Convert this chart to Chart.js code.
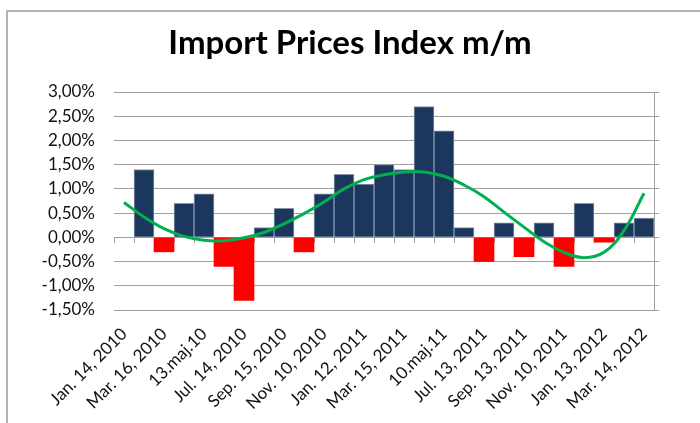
<!DOCTYPE html>
<html>
<head>
<meta charset="utf-8">
<script src="https://cdn.jsdelivr.net/npm/chart.js@4"></script>
<style>
  html, body { margin: 0; padding: 0; background: #fff; }
  body { width: 700px; height: 423px; position: relative; overflow: hidden; }
  #frame { position: absolute; left: 6px; top: 10px; width: 760px; height: 480px; border: 2px solid #b4b4b4; }
  #wrap { position: absolute; left: 0; top: 0; width: 700px; height: 423px; }
</style>
</head>
<body>
<div id="frame"></div>
<div id="wrap"><canvas id="chart"></canvas></div>
<script>
// Monthly categories; only every second one carries a label in the original
const categories = [
  'Jan. 14, 2010', '', 'Mar. 16, 2010', '', '13.maj.10', '', 'Jul. 14, 2010', '',
  'Sep. 15, 2010', '', 'Nov. 10, 2010', '', 'Jan. 12, 2011', '', 'Mar. 15, 2011', '',
  '10.maj.11', '', 'Jul. 13, 2011', '', 'Sep. 13, 2011', '', 'Nov. 10, 2011', '',
  'Jan. 13, 2012', '', 'Mar. 14, 2012'
];

// m/m change in %
const importPrices = [
  null, 1.4, -0.3, 0.7, 0.9, -0.6, -1.3, 0.2, 0.6, -0.3, 0.9, 1.3, 1.1, 1.5,
  1.4, 2.7, 2.2, 0.2, -0.5, 0.3, -0.4, 0.3, -0.6, 0.7, -0.1, 0.3, 0.4
];

// polynomial trend line
const trendLine = [
  0.72, 0.42, 0.18, 0.02, -0.06, -0.07, -0.01, 0.10, 0.28, 0.49, 0.73, 1.00, 1.19, 1.29,
  1.35, 1.35, 1.26, 1.08, 0.84, 0.52, 0.21, -0.09, -0.31, -0.42, -0.31, 0.14, 0.91
];

const yTicks = [-1.5, -1.0, -0.5, 0, 0.5, 1.0, 1.5, 2.0, 2.5, 3.0];

const NAVY = '#1c375e';
const RED = '#ff0000';
const GRID = '#a0a0a0';
const FONT = 'Lato, "Open Sans", sans-serif';

const fmtPct = (v) => v.toFixed(2).replace('.', ',') + '%';

new Chart(document.getElementById('chart'), {
  type: 'bar',
  data: {
    labels: categories,
    datasets: [
      {
        type: 'line',
        label: 'Trend',
        data: trendLine,
        borderColor: '#00b050',
        borderWidth: 3,
        pointRadius: 0,
        tension: 0.4,
        fill: false,
        order: 0,
      },
      {
        label: 'Import Prices Index m/m',
        data: importPrices,
        backgroundColor: (ctx) => (ctx.raw < 0 ? RED : NAVY),
        borderColor: (ctx) => (ctx.raw < 0 ? RED : '#8796ad'),
        borderWidth: (ctx) => (ctx.raw < 0 ? 0 : 1),
        categoryPercentage: 1,
        barPercentage: 1,
        order: 1,
      },
    ],
  },
  options: {
    responsive: true,
    maintainAspectRatio: false,
    animation: false,
    layout: { padding: 0 },
    plugins: {
      legend: { display: false },
      tooltip: { enabled: false },
      title: {
        display: true,
        text: 'Import Prices Index m/m',
        color: '#000',
        font: { family: FONT, size: 33, weight: 'bold', lineHeight: 1.2 },
        padding: { top: 24, bottom: 28.4 },
      },
    },
    scales: {
      x: {
        type: 'category',
        position: 'bottom',
        offset: true,
        grid: { display: false, drawTicks: false },
        border: { display: false },
        ticks: {
          autoSkip: false,
          minRotation: 45,
          maxRotation: 45,
          padding: 14,
          color: '#111',
          font: { family: FONT, size: 17 },
        },
        afterFit: (scale) => { scale.height = 113; },
      },
      xZero: {
        type: 'category',
        position: { y: 0 },
        offset: true,
        grid: { offset: true, drawOnChartArea: false, drawTicks: true, tickLength: 5, color: GRID },
        border: { display: true, color: GRID, width: 1 },
        ticks: { display: false },
      },
      y: {
        min: -1.5,
        max: 3.0,
        position: 'left',
        border: { display: false },
        grid: { color: GRID, drawTicks: false, lineWidth: 1 },
        afterBuildTicks: (scale) => { scale.ticks = yTicks.map((v) => ({ value: v })); },
        ticks: {
          padding: 19,
          color: '#111',
          font: { family: FONT, size: 17 },
          callback: (v) => fmtPct(v),
        },
        afterFit: (scale) => { scale.width = 114; },
      },
      yRight: {
        min: -1.5,
        max: 3.0,
        position: 'right',
        border: { display: true, color: GRID, width: 1 },
        grid: { drawOnChartArea: false, drawTicks: true, tickLength: 5, color: GRID },
        afterBuildTicks: (scale) => { scale.ticks = yTicks.map((v) => ({ value: v })); },
        ticks: { display: false },
        afterFit: (scale) => { scale.width = 46; },
      },
    },
  },
});
</script>
</body>
</html>
